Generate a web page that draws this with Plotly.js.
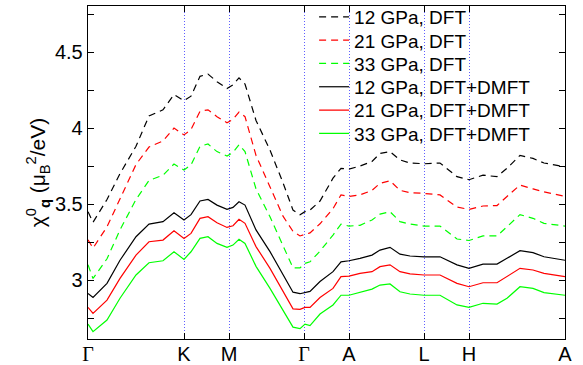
<!DOCTYPE html>
<html>
<head>
<meta charset="utf-8">
<script src="https://cdn.plot.ly/plotly-3.0.1.min.js"></script>
<style>html,body{margin:0;padding:0;background:#fff;}#chart{width:583px;height:365px;}</style>
</head>
<body>
<div id="chart"></div>
<script>
// k-path coordinate (arbitrary units along Γ-K-M-Γ-A-L-H-A)
const kpath = [0, 5, 19, 32, 48, 61, 75, 86, 96, 103, 112, 120, 129, 139, 145, 151, 157, 168, 182, 195, 205, 212, 217, 222, 232, 245, 253, 261, 272, 284, 292, 302, 312, 322, 336, 352, 369, 381, 395, 409, 419, 432, 445, 456, 477];

// high-symmetry points
const symPos = [0, 96, 141, 216, 261, 336, 381, 477];
const symLabels = ['Γ', 'K', 'M', 'Γ', 'A', 'L', 'H', 'A'];

const names = ['12 GPa, DFT', '21 GPa, DFT', '33 GPa, DFT', '12 GPa, DFT+DMFT', '21 GPa, DFT+DMFT', '33 GPa, DFT+DMFT'];

const dft12 = [3.45, 3.38, 3.53, 3.70, 3.88, 4.08, 4.12, 4.22, 4.18, 4.21, 4.34, 4.355, 4.305, 4.26, 4.285, 4.33, 4.29, 4.05, 3.855, 3.64, 3.46, 3.43, 3.45, 3.46, 3.52, 3.67, 3.735, 3.73, 3.75, 3.78, 3.833, 3.845, 3.79, 3.77, 3.765, 3.77, 3.68, 3.66, 3.69, 3.68, 3.735, 3.82, 3.80, 3.77, 3.745];
const dft21 = [3.265, 3.21, 3.35, 3.53, 3.76, 3.875, 3.915, 4.00, 3.955, 3.99, 4.11, 4.12, 4.075, 4.035, 4.057, 4.105, 4.075, 3.82, 3.61, 3.42, 3.32, 3.29, 3.30, 3.31, 3.37, 3.47, 3.56, 3.55, 3.56, 3.59, 3.636, 3.653, 3.59, 3.575, 3.57, 3.56, 3.48, 3.465, 3.487, 3.49, 3.55, 3.625, 3.60, 3.58, 3.55];
const dft33 = [3.10, 3.01, 3.14, 3.33, 3.53, 3.655, 3.69, 3.763, 3.724, 3.757, 3.88, 3.895, 3.845, 3.816, 3.84, 3.89, 3.845, 3.60, 3.416, 3.22, 3.08, 3.08, 3.11, 3.12, 3.19, 3.296, 3.368, 3.355, 3.36, 3.395, 3.434, 3.45, 3.384, 3.368, 3.355, 3.355, 3.27, 3.26, 3.29, 3.29, 3.35, 3.43, 3.406, 3.373, 3.355];
const dmft12 = [2.912, 2.886, 2.978, 3.13, 3.285, 3.368, 3.384, 3.443, 3.395, 3.43, 3.52, 3.53, 3.493, 3.465, 3.478, 3.515, 3.493, 3.33, 3.187, 3.033, 2.92, 2.91, 2.917, 2.925, 2.99, 3.055, 3.12, 3.127, 3.143, 3.164, 3.197, 3.215, 3.17, 3.158, 3.153, 3.153, 3.10, 3.077, 3.105, 3.105, 3.143, 3.193, 3.18, 3.153, 3.13];
const dmft21 = [2.82, 2.78, 2.868, 3.011, 3.164, 3.252, 3.263, 3.324, 3.274, 3.307, 3.406, 3.417, 3.377, 3.346, 3.357, 3.40, 3.373, 3.22, 3.077, 2.923, 2.81, 2.807, 2.82, 2.82, 2.885, 2.945, 3.022, 3.026, 3.044, 3.055, 3.088, 3.10, 3.055, 3.04, 3.033, 3.033, 2.978, 2.956, 2.982, 2.982, 3.022, 3.077, 3.066, 3.044, 3.022];
const dmft33 = [2.71, 2.66, 2.737, 2.88, 3.033, 3.114, 3.127, 3.186, 3.136, 3.186, 3.274, 3.285, 3.241, 3.215, 3.23, 3.268, 3.241, 3.09, 2.945, 2.80, 2.69, 2.68, 2.71, 2.70, 2.776, 2.836, 2.90, 2.90, 2.917, 2.94, 2.967, 2.974, 2.923, 2.908, 2.90, 2.90, 2.836, 2.82, 2.847, 2.842, 2.88, 2.956, 2.945, 2.917, 2.90];

const series = [dft12, dft21, dft33, dmft12, dmft21, dmft33];
const colors = ['#000000', '#ff0000', '#00ff00', '#000000', '#ff0000', '#00ff00'];
const dashes = ['7px,5px', '7px,5px', '7px,5px', 'solid', 'solid', 'solid'];

const FONT = 'Liberation Sans, Arial, Helvetica, sans-serif';
const H = 365, MT = 6, MB = 26, PH = H - MT - MB;

const legendKeys = ['legend', 'legend2', 'legend3', 'legend4', 'legend5', 'legend6'];

const traces = series.map((ys, i) => ({
  x: kpath, y: ys, type: 'scatter', mode: 'lines', name: names[i],
  legend: legendKeys[i],
  line: {color: colors[i], width: 1.2, dash: dashes[i]}
}));

const layout = {
  width: 583, height: H,
  margin: {l: 88, r: 18, t: MT, b: MB, autoexpand: false},
  paper_bgcolor: '#fff', plot_bgcolor: '#fff',
  font: {family: FONT, size: 20, color: '#000'},
  showlegend: true,
  xaxis: {
    range: [symPos[0], symPos[symPos.length - 1]],
    tickmode: 'array', tickvals: symPos,
    ticktext: symLabels.map(s => s === 'Γ' ? '<span style="font-family:Liberation Serif, Times New Roman, serif">Γ</span>' : s),
    ticks: 'inside', ticklen: 6, tickwidth: 1, tickcolor: '#000',
    ticklabelstandoff: -3,
    showgrid: true, gridcolor: 'rgba(40,40,255,0.75)', gridwidth: 1, griddash: '1px,2px',
    showline: true, linecolor: '#000', linewidth: 1.3, mirror: 'ticks',
    zeroline: false, tickfont: {size: 20}
  },
  yaxis: {
    range: [2.612, 4.803],
    tick0: 0, dtick: 0.5,
    ticks: 'inside', ticklen: 6, tickwidth: 1, tickcolor: '#000',
    minor: {dtick: 0.25, ticks: 'inside', ticklen: 6, tickwidth: 1, tickcolor: '#000', showgrid: false},
    showgrid: false,
    showline: true, linecolor: '#000', linewidth: 1.3, mirror: 'ticks',
    zeroline: false, tickfont: {size: 20},
    title: {text: 'χ<sup>0</sup><sub><b>q</b></sub> (μ<sub>B</sub><sup>2</sup>/eV)', font: {size: 21}, standoff: 3}
  }
};

// place one legend per row, rows 23.3 px apart starting 17 px from the top
legendKeys.forEach((k, i) => {
  const py = 17 + i * 23.3;
  layout[k] = {
    x: 0.474, y: 1 - (py - MT) / PH, xanchor: 'left', yanchor: 'middle',
    bgcolor: 'rgba(0,0,0,0)', borderwidth: 0,
    font: {family: FONT, size: 19, color: '#000'},
    itemwidth: 30
  };
});

Plotly.newPlot('chart', traces, layout, {displayModeBar: false, staticPlot: true});
</script>
</body>
</html>
